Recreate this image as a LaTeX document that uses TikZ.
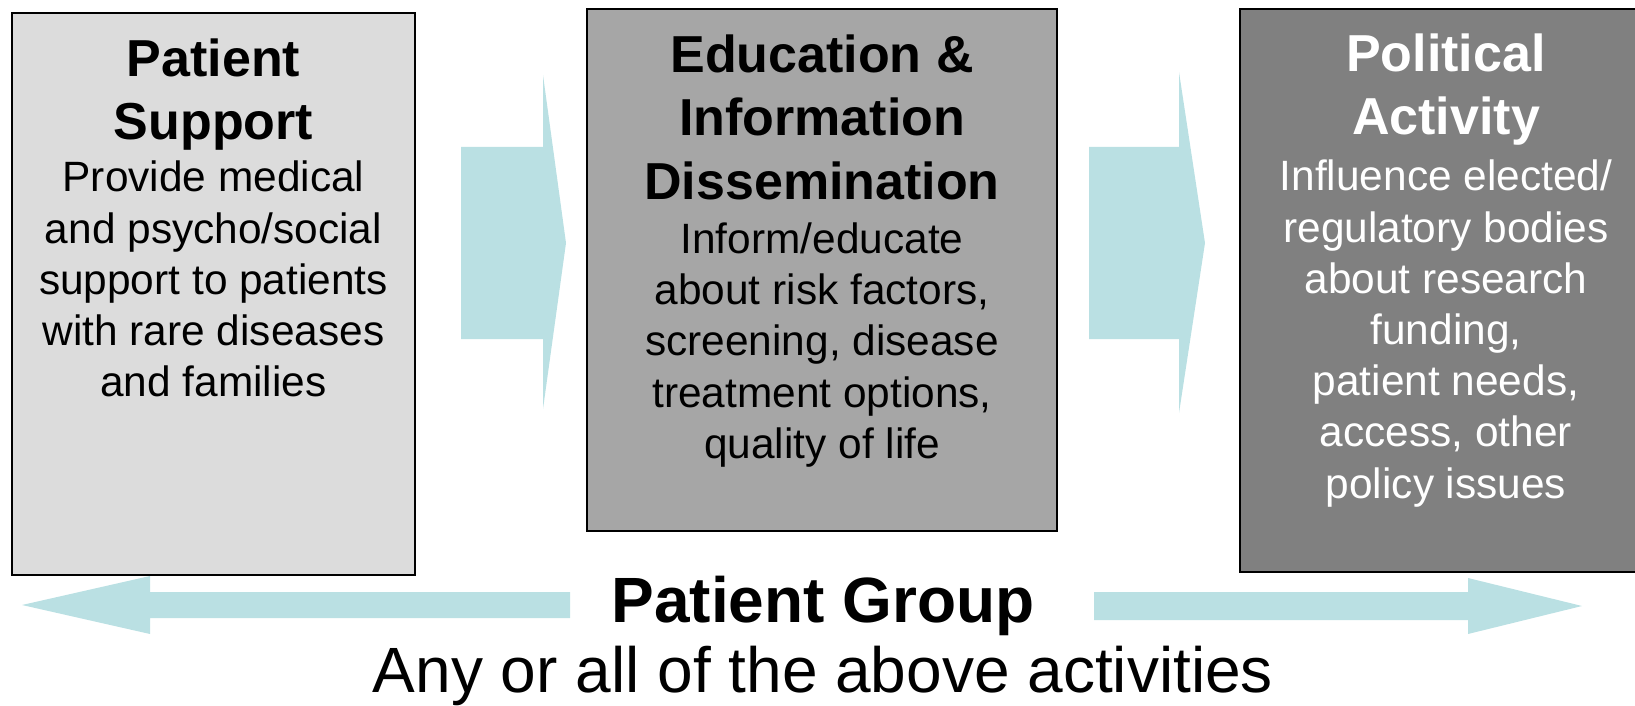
\documentclass[tikz,border=0pt]{standalone}
\usepackage{fontspec}
\setmainfont{Liberation Sans}
\usetikzlibrary{positioning}

\definecolor{arrowteal}{HTML}{BAE0E3}
\definecolor{boxlight}{HTML}{DCDCDC}
\definecolor{boxmid}{HTML}{A6A6A6}
\definecolor{boxdark}{HTML}{808080}

\newcommand\boxhead{\fontsize{26}{31.8}\selectfont\bfseries\spaceskip=\fontdimen2\font\relax}
\newcommand\boxbody{\fontsize{21.2}{25.6}\selectfont\spaceskip=\fontdimen2\font\relax}

\begin{document}
\begin{tikzpicture}[x=0.5pt,y=-0.5pt,
        box/.style={draw=black, line width=1pt, inner sep=0pt, outer sep=0pt},
        boxtext/.style={inner sep=0pt, text width=220pt, align=center},
        fatarrow/.style={fill=arrowteal}]
    \useasboundingbox (0,0) rectangle (1635,706);
    \clip (0,0) rectangle (1635,706);

    % the three activity boxes
    \node[box, fill=boxlight, minimum width=201.5pt, minimum height=281pt] (support) at (213.5,294) {};
    \node[box, fill=boxmid, minimum width=235pt, minimum height=261pt] (education) at (822,270) {};
    \node[box, fill=boxdark, minimum width=206pt, minimum height=281.5pt] (political) at (1446,290.5) {};

    \node[boxtext, below=12.5pt of support.north] (support-text)
        {{\boxhead Patient\\Support\par}\vspace{0.5pt}
         {\boxbody Provide medical\\and psycho/social\\support to patients\\with rare diseases\\and families\par}};
    \node[boxtext, below=12.5pt of education.north] (education-text)
        {{\boxhead Education \&\\Information\\Dissemination\par}\vspace{1.5pt}
         {\boxbody Inform/educate\\about risk factors,\\screening, disease\\treatment options,\\quality of life\par}};
    \node[boxtext, text=white, below=12pt of political.north] (political-text)
        {{\boxhead Political\\Activity\par}\vspace{2.5pt}
         {\boxbody Influence elected/\\regulatory bodies\\about research\\funding,\\patient needs,\\access, other\\policy issues\par}};

    % block arrows between the boxes
    \fill[fatarrow] (461,147) -- (543,147) -- (543,75) -- (566,243) -- (543,409) -- (543,339) -- (461,339) -- cycle;
    \fill[fatarrow] (1089,147) -- (1179,147) -- (1179,72) -- (1205,243) -- (1179,413) -- (1179,339) -- (1089,339) -- cycle;

    % patient group
    \node[anchor=base, inner sep=0pt, font=\fontsize{32}{36}\selectfont\bfseries] (group) at (823,622) {Patient Group};
    \node[anchor=base, inner sep=0pt, font=\fontsize{32}{36}\selectfont] (any) at (823,692) {Any or all of the above activities};

    \fill[fatarrow] (570,592) -- (150,592) -- (150,576) -- (22,605) -- (150,634) -- (150,618) -- (570,618) -- cycle;
    \fill[fatarrow] (1094,592) -- (1468,592) -- (1468,578) -- (1582,606) -- (1468,634) -- (1468,620) -- (1094,620) -- cycle;
\end{tikzpicture}
\end{document}
